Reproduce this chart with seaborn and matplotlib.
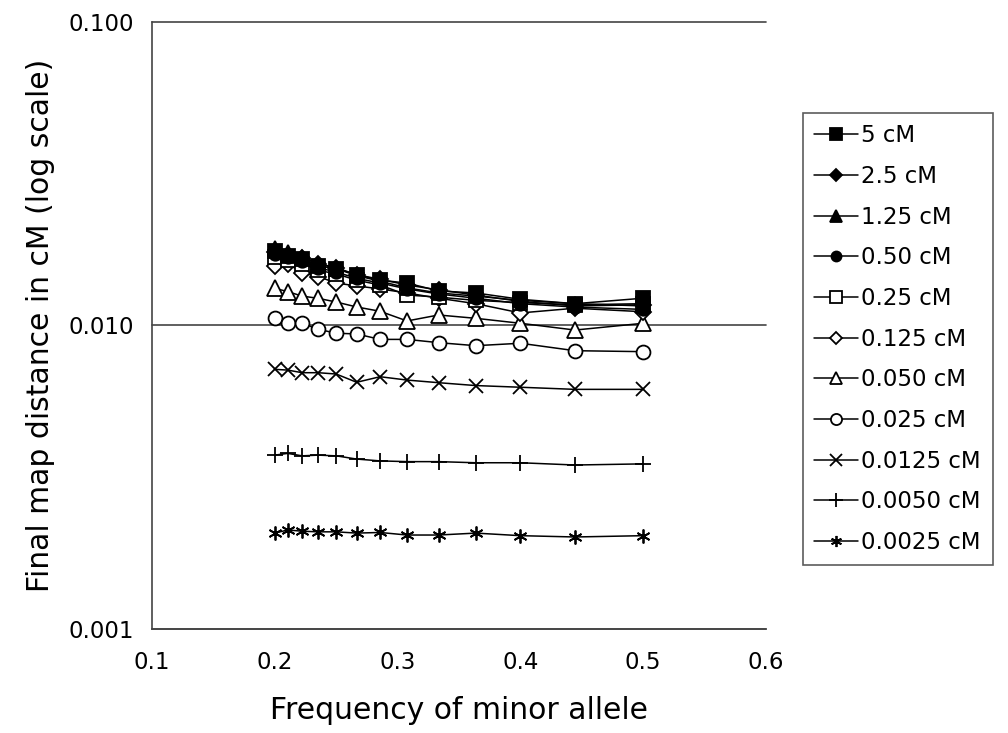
import numpy as np
import pandas as pd
import seaborn as sns
import matplotlib
matplotlib.use("Agg")
import matplotlib.pyplot as plt
from matplotlib.ticker import NullLocator

# ---- data ----
freq = [4/20, 4/19, 4/18, 4/17, 4/16, 4/15, 4/14, 4/13, 4/12, 4/11, 4/10, 4/9, 4/8]

labels = ["5 cM", "2.5 cM", "1.25 cM", "0.50 cM", "0.25 cM", "0.125 cM",
          "0.050 cM", "0.025 cM", "0.0125 cM", "0.0050 cM", "0.0025 cM"]

s_5 = [0.0176, 0.0169, 0.0166, 0.0157, 0.0154, 0.0147, 0.0141, 0.0138, 0.0130, 0.0128, 0.0122, 0.0118, 0.0123]
s_2_5 = [0.0174, 0.0171, 0.0167, 0.0160, 0.0155, 0.0147, 0.0142, 0.0136, 0.0131, 0.0126, 0.0120, 0.0116, 0.0117]
s_1_25 = [0.0180, 0.0174, 0.0168, 0.0160, 0.0154, 0.0146, 0.0140, 0.0133, 0.0128, 0.0125, 0.0121, 0.0118, 0.0116]
s_0_50 = [0.0172, 0.0168, 0.0163, 0.0155, 0.0150, 0.0143, 0.0138, 0.0132, 0.0127, 0.0123, 0.0118, 0.0115, 0.0113]
s_0_25 = [0.0168, 0.0164, 0.0160, 0.0152, 0.0148, 0.0141, 0.0136, 0.0126, 0.0124, 0.0121, 0.0119, 0.0117, 0.0118]
s_0_125 = [0.0157, 0.0160, 0.0149, 0.0145, 0.0138, 0.0135, 0.0132, 0.0128, 0.0123, 0.0118, 0.0110, 0.0114, 0.0111]
s_0_050 = [0.01326, 0.01293, 0.0125, 0.01229, 0.01195, 0.01151, 0.01114, 0.01035, 0.01083, 0.01056, 0.01017, 0.00966, 0.01017]
s_0_025 = [0.01056, 0.01021, 0.01017, 0.00972, 0.00943, 0.00938, 0.0090, 0.0090, 0.00878, 0.00858, 0.00874, 0.00826, 0.0082]
s_0_0125 = [0.00717, 0.00713, 0.00699, 0.00699, 0.00692, 0.0065, 0.00678, 0.00661, 0.00648, 0.00634, 0.00626, 0.00616, 0.00616]
s_0_0050 = [0.00374, 0.00379, 0.00372, 0.00374, 0.00372, 0.00363, 0.00358, 0.00356, 0.00356, 0.00353, 0.00353, 0.00347, 0.00350]
s_0_0025 = [0.00207, 0.00212, 0.00210, 0.00209, 0.00209, 0.00207, 0.00208, 0.00204, 0.00204, 0.00207, 0.00203, 0.00201, 0.00203]

series = [s_5, s_2_5, s_1_25, s_0_50, s_0_25, s_0_125, s_0_050, s_0_025, s_0_0125, s_0_0050, s_0_0025]

xticks = [0.1, 0.2, 0.3, 0.4, 0.5, 0.6]
yticks = [0.001, 0.01, 0.1]
ytick_labels = ["0.001", "0.010", "0.100"]

# ---- styles ----
markers = ["s", "D", "^", "o", "s", "D", "^", "o", "x", "+", (6, 2, 0)]
filled = [True, True, True, True, False, False, False, False, True, True, True]
msizes = [10, 8, 10, 9, 10, 8, 11, 10, 10, 12, 10]

sns.set_style("white")
plt.rcParams["font.family"] = ["DejaVu Sans"]
plt.rcParams["text.color"] = "black"
plt.rcParams["axes.labelcolor"] = "black"
plt.rcParams["xtick.color"] = "black"
plt.rcParams["ytick.color"] = "black"

fig = plt.figure(figsize=(10.08, 7.33), dpi=100)
ax = fig.add_axes([152/1008, 1 - 629/733, (766-152)/1008, (629-22)/733])

n = len(series)
for i, (lab, vals, mk, fl, ms) in enumerate(zip(labels, series, markers, filled, msizes)):
    df = pd.DataFrame({"freq": freq, "dist": vals})
    sns.lineplot(data=df, x="freq", y="dist", ax=ax, color="black", lw=1.1,
                 marker=mk, markersize=ms,
                 markerfacecolor="black" if fl else "white",
                 markeredgecolor="black", markeredgewidth=1.3,
                 label=lab, sort=False, zorder=3 + (n - i))

ax.set_yscale("log")
ax.set_xlim(0.1, 0.6)
ax.set_ylim(0.001, 0.1)
ax.set_xticks(xticks)
ax.set_xticklabels([f"{t:.1f}" for t in xticks])
ax.set_yticks(yticks)
ax.set_yticklabels(ytick_labels)
ax.yaxis.set_minor_locator(NullLocator())

ax.tick_params(axis="both", which="major", direction="out", length=7, width=1,
               color="#444444", labelcolor="black", labelsize=16.5, pad=6)
ax.tick_params(axis="x", pad=9)
ax.yaxis.grid(True, color="#444444", lw=1.2)
for gl in ax.get_ygridlines():
    gl.set_clip_on(False)
ax.set_axisbelow(True)

for side in ["top", "right"]:
    ax.spines[side].set_visible(False)
for side in ["left", "bottom"]:
    ax.spines[side].set_color("#444444")
    ax.spines[side].set_linewidth(1.2)

ax.set_xlabel("Frequency of minor allele", fontsize=21.5, labelpad=16, color="black")
ax.set_ylabel("Final map distance in cM (log scale)", fontsize=21.5, labelpad=10, color="black")

ax.get_legend().remove()
handles, labs = ax.get_legend_handles_labels()
leg = fig.legend(handles, labs, loc="upper left",
                 bbox_to_anchor=(803/1008, 1 - 113/733),
                 frameon=True, fancybox=False, edgecolor="#333333",
                 fontsize=16.5, markerscale=0.8, handlelength=1.9,
                 handletextpad=0.15, labelspacing=0.77, borderpad=0.5,
                 borderaxespad=0)
leg.get_frame().set_linewidth(1.2)
for t in leg.get_texts():
    t.set_color("black")

fig.savefig("out.png", dpi=100, facecolor="white")
